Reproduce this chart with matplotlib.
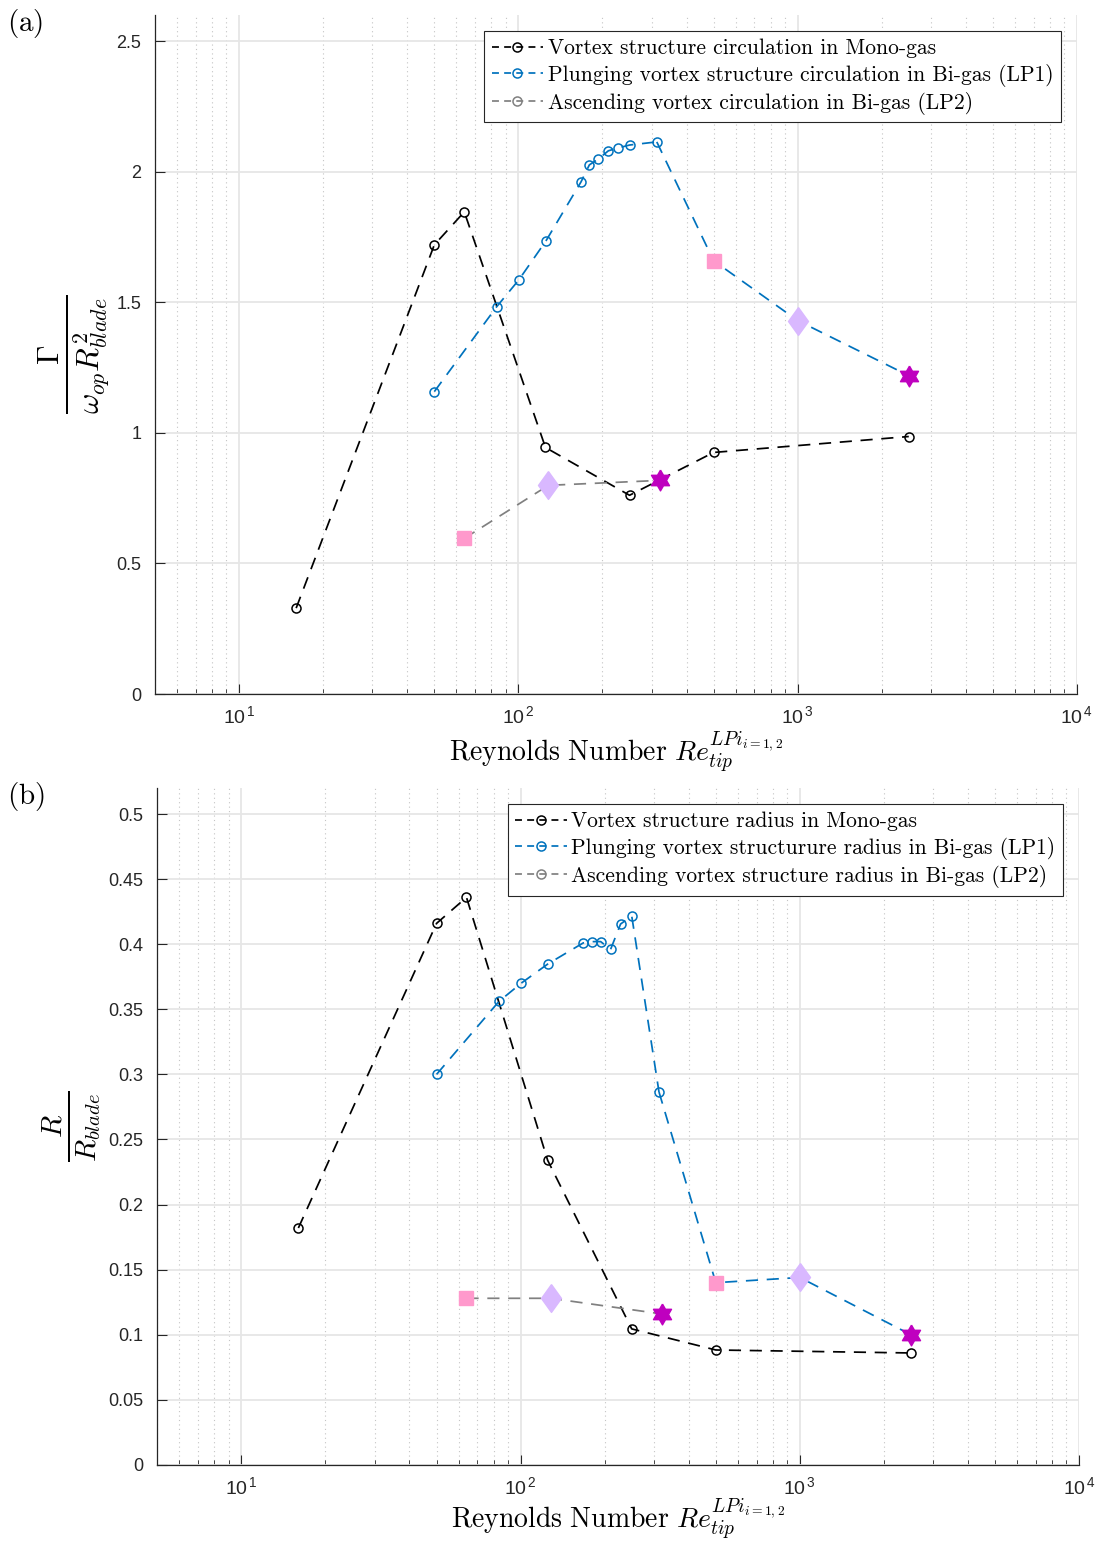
import numpy as np
import matplotlib
matplotlib.use("Agg")
import matplotlib.pyplot as plt
from matplotlib.ticker import FixedLocator, NullFormatter, LogLocator

# ---------------- data ----------------
# Panel (a): circulation
mono_re_a = [16, 50, 64, 125, 250, 500, 2500]
mono_gamma = [0.329, 1.72, 1.846, 0.944, 0.761, 0.925, 0.986]

lp1_re_a = [50, 83.6, 100.4, 125.5, 167.6, 179.5, 193.5, 210, 228, 250, 313]
lp1_gamma = [1.158, 1.483, 1.586, 1.735, 1.961, 2.026, 2.049, 2.080, 2.091, 2.102, 2.114]
lp1_tail_re_a = [313, 500, 1000, 2500]
lp1_tail_gamma = [2.114, 1.659, 1.430, 1.219]

lp2_re_a = [64, 128, 321]
lp2_gamma = [0.596, 0.799, 0.818]

# Panel (b): radius
mono_re_b = [16, 50, 64, 125, 250, 500, 2500]
mono_r = [0.182, 0.416, 0.436, 0.234, 0.1045, 0.0883, 0.086]

lp1_re_b = [50, 83.6, 100.4, 125.5, 167.6, 179.5, 193.5, 210, 228, 250, 313]
lp1_r = [0.300, 0.356, 0.370, 0.385, 0.401, 0.402, 0.402, 0.396, 0.4155, 0.4217, 0.2865]
lp1_tail_re_b = [313, 500, 1000, 2500]
lp1_tail_r = [0.2865, 0.140, 0.144, 0.100]

lp2_re_b = [64, 128, 320]
lp2_r = [0.128, 0.128, 0.116]

yticks_a = [0, 0.5, 1, 1.5, 2, 2.5]
yticklabels_a = ["0", "0.5", "1", "1.5", "2", "2.5"]
yticks_b = [0, 0.05, 0.1, 0.15, 0.2, 0.25, 0.3, 0.35, 0.4, 0.45, 0.5]
yticklabels_b = ["0", "0.05", "0.1", "0.15", "0.2", "0.25", "0.3", "0.35", "0.4", "0.45", "0.5"]
xticks = [10, 100, 1000, 10000]
xticklabels = [r"$10^{\,1}$", r"$10^{\,2}$", r"$10^{\,3}$", r"$10^{\,4}$"]

legend_a = ["Vortex structure circulation in Mono-gas",
            "Plunging vortex structure circulation in Bi-gas (LP1)",
            "Ascending vortex circulation in Bi-gas (LP2)"]
legend_b = ["Vortex structure radius in Mono-gas",
            "Plunging vortex structurure radius in Bi-gas (LP1)",
            "Ascending vortex structure radius in Bi-gas (LP2)"]

# ---------------- style ----------------
plt.rcParams["mathtext.fontset"] = "custom"
plt.rcParams["mathtext.rm"] = "Liberation Sans"
plt.rcParams["mathtext.it"] = "Liberation Sans:italic"
plt.rcParams["mathtext.bf"] = "Liberation Sans:bold"
plt.rcParams["font.family"] = ["Liberation Sans", "DejaVu Sans"]
plt.rcParams["axes.unicode_minus"] = False

C_BLACK = "black"
C_BLUE = "#0072BD"
C_GRAY = "#808080"
C_PINK = "#FF99CC"
C_LILAC = "#D9B8FF"
C_MAG = "#BF00BF"
C_AX = "#262626"

# hexagram marker
ang_o = np.deg2rad(90 + 60 * np.arange(6))
ang_i = np.deg2rad(120 + 60 * np.arange(6))
hex_verts = []
for ao, ai in zip(ang_o, ang_i):
    hex_verts.append((np.cos(ao), np.sin(ao)))
    hex_verts.append((np.cos(ai) / np.sqrt(3), np.sin(ai) / np.sqrt(3)))
hex_verts.append(hex_verts[0])
diamond_verts = [(0, 1), (0.72, 0), (0, -1), (-0.72, 0), (0, 1)]

LW = 1.25
DASH = (7, 5)
MS = 6.5

fig = plt.figure(figsize=(11.0, 15.43), dpi=100)
ax_a = fig.add_axes([0.141, 0.5502, 0.838, 0.4401])
ax_b = fig.add_axes([0.143, 0.0506, 0.838, 0.4387])


def style_axes(ax, ylim, yt, ytl):
    ax.set_xscale("log")
    ax.set_xlim(5, 1e4)
    ax.set_ylim(*ylim)
    ax.xaxis.set_major_locator(FixedLocator(xticks))
    ax.set_xticklabels(xticklabels, fontsize=14, color=C_AX)
    ax.xaxis.set_minor_locator(LogLocator(base=10, subs=np.arange(2, 10), numticks=20))
    ax.xaxis.set_minor_formatter(NullFormatter())
    ax.set_yticks(yt)
    ax.set_yticklabels(ytl, fontsize=13, color=C_AX)
    ax.tick_params(axis="y", which="major", direction="in", length=7, width=0.8,
                   color=C_AX, pad=10)
    ax.tick_params(axis="x", which="major", direction="in", length=7, width=0.8,
                   color=C_AX, pad=8)
    ax.tick_params(axis="x", which="minor", direction="in", length=3.5, width=0.6,
                   color=C_AX)
    ax.tick_params(axis="y", which="minor", left=False)
    for s in ["top", "right"]:
        ax.spines[s].set_visible(False)
    for s in ["left", "bottom"]:
        ax.spines[s].set_color(C_AX)
        ax.spines[s].set_linewidth(0.9)
    ax.grid(True, which="major", color="#E6E6E6", linewidth=1.3, linestyle="-")
    ax.grid(True, which="minor", axis="x", color="#C4C4C4", linewidth=0.8,
            linestyle=(0, (1, 3)))
    ax.set_axisbelow(True)


def draw_panel(ax, mre, mval, lre, lval, tre, tval, gre, gval, labels):
    ax.plot(mre, mval, color=C_BLACK, lw=LW, dashes=DASH, marker="o",
            ms=MS, mfc="none", mec=C_BLACK, mew=1.1, zorder=3)
    ax.plot(lre, lval, color=C_BLUE, lw=LW, dashes=DASH, marker="o",
            ms=MS, mfc="none", mec=C_BLUE, mew=1.1, zorder=3)
    ax.plot(tre, tval, color=C_BLUE, lw=LW, dashes=DASH, zorder=3)
    ax.plot(gre, gval, color=C_GRAY, lw=LW, dashes=DASH, zorder=3)
    # special markers
    ax.plot(tre[1], tval[1], ls="none", marker="s", ms=10, mfc=C_PINK, mec=C_PINK, zorder=4)
    ax.plot(tre[2], tval[2], ls="none", marker=diamond_verts, ms=20, mfc=C_LILAC, mec=C_LILAC, zorder=4)
    ax.plot(tre[3], tval[3], ls="none", marker=hex_verts, ms=15, mfc=C_MAG, mec=C_MAG, zorder=4)
    ax.plot(gre[0], gval[0], ls="none", marker="s", ms=10, mfc=C_PINK, mec=C_PINK, zorder=4)
    ax.plot(gre[1], gval[1], ls="none", marker=diamond_verts, ms=20, mfc=C_LILAC, mec=C_LILAC, zorder=4)
    ax.plot(gre[2], gval[2], ls="none", marker=hex_verts, ms=15, mfc=C_MAG, mec=C_MAG, zorder=4)
    # legend proxies (line + open circle)
    proxies = []
    for c in (C_BLACK, C_BLUE, C_GRAY):
        p, = ax.plot([], [], color=c, lw=LW, dashes=(4, 3), marker="o", ms=MS,
                     mfc="none", mec=c, mew=1.1)
        proxies.append(p)
    leg = ax.legend(proxies, labels, loc="upper right",
                    prop={"family": "cmr10", "size": 15.5},
                    fancybox=False, framealpha=1, edgecolor=C_AX,
                    handlelength=2.4, handletextpad=0.2, labelspacing=0.25,
                    borderpad=0.35, borderaxespad=0.75, numpoints=1)
    leg.get_frame().set_linewidth(0.8)


style_axes(ax_a, (0, 2.6), yticks_a, yticklabels_a)
style_axes(ax_b, (0, 0.52), yticks_b, yticklabels_b)

draw_panel(ax_a, mono_re_a, mono_gamma, lp1_re_a, lp1_gamma, lp1_tail_re_a,
           lp1_tail_gamma, lp2_re_a, lp2_gamma, legend_a)
draw_panel(ax_b, mono_re_b, mono_r, lp1_re_b, lp1_r, lp1_tail_re_b,
           lp1_tail_r, lp2_re_b, lp2_r, legend_b)

xl = r"$\mathrm{Reynolds\ Number}\ Re_{tip}^{LPi_{i=1,2}}$"
ax_a.set_xlabel(xl, fontsize=20, math_fontfamily="cm", labelpad=2)
ax_b.set_xlabel(xl, fontsize=20, math_fontfamily="cm", labelpad=-1)

ax_a.set_ylabel(r"$\frac{\Gamma}{\omega_{op}R^{2}_{blade}}$", fontsize=32,
                math_fontfamily="cm", labelpad=4)
ax_b.set_ylabel(r"$\frac{R}{R_{blade}}$", fontsize=30, math_fontfamily="cm",
                labelpad=4)

fig.text(0.006, 0.985, r"$\mathrm{(a)}$", fontsize=21, math_fontfamily="cm",
         va="center", ha="left")
fig.text(0.006, 0.484, r"$\mathrm{(b)}$", fontsize=21, math_fontfamily="cm",
         va="center", ha="left")

fig.savefig("out.png", dpi=100)
